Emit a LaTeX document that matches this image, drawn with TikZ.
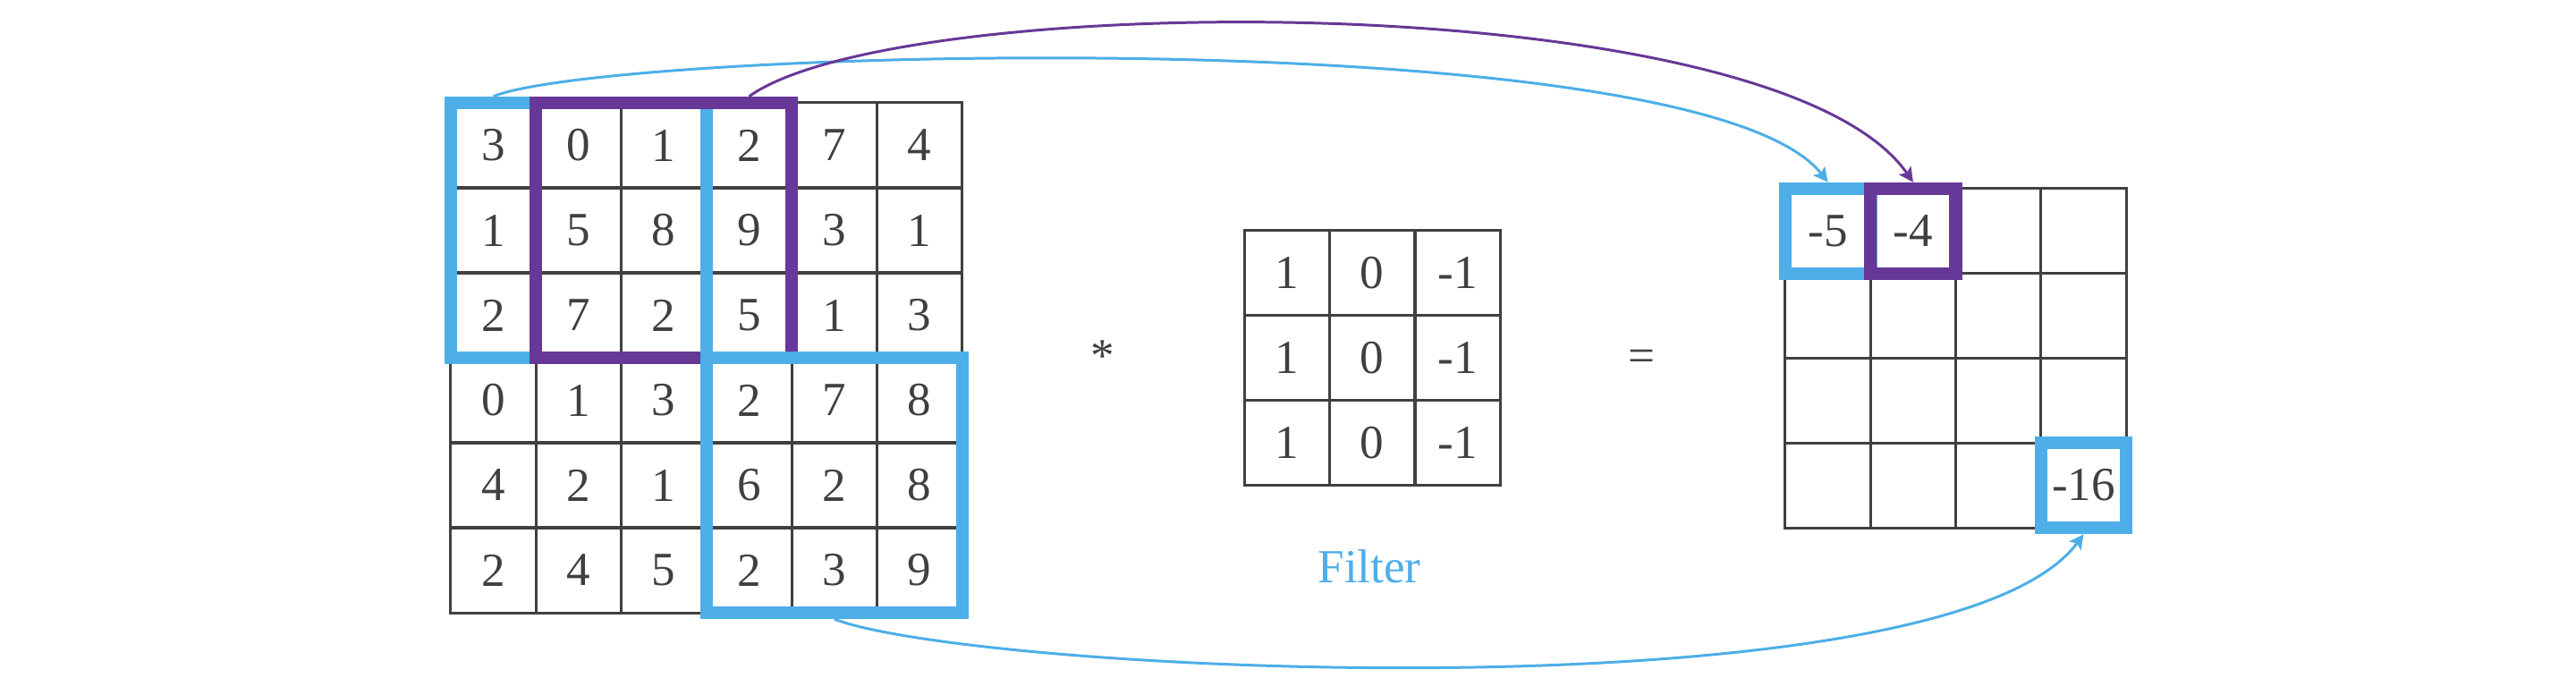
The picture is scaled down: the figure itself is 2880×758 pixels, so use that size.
\documentclass[tikz,border=0pt]{standalone}
\usepackage{fontspec}
\setmainfont{Liberation Serif}
\usetikzlibrary{fit,arrows.meta}
\definecolor{gridgray}{HTML}{404040}
\definecolor{hlblue}{HTML}{4DAEE8}
\definecolor{hlpurple}{HTML}{673897}
\begin{document}
\begin{tikzpicture}[x=0.01cm,y=-0.01cm,
  cell/.style={draw=gridgray, line width=0.85pt, minimum width=0.953cm, minimum height=0.95cm,
    inner sep=0pt, outer sep=0pt, text=gridgray, font=\fontsize{15.1}{18}\selectfont},
  hl/.style={draw=#1, line width=4.1pt, inner sep=0pt},
  conn/.style={draw=#1, line width=0.85pt, -{Stealth[length=4.6pt,width=4.6pt,inset=1pt]}},
  sym/.style={text=gridgray, anchor=base, inner sep=0pt, font=\fontsize{15.1}{18}\selectfont}]
\useasboundingbox (0,0) rectangle (2880,758);
% input 6x6
\foreach \rowvals [count=\r from 0] in {{3,0,1,2,7,4},{1,5,8,9,3,1},{2,7,2,5,1,3},{0,1,3,2,7,8},{4,2,1,6,2,8},{2,4,5,2,3,9}}{
  \foreach \v [count=\c from 0] in \rowvals {
    \node[cell] (in-\r-\c) at ({504+95.3*(\c+0.5)},{115+95*(\r+0.5)}) {\v};
  }
}
% filter 3x3
\foreach \rowvals [count=\r from 0] in {{1,0,-1},{1,0,-1},{1,0,-1}}{
  \foreach \v [count=\c from 0] in \rowvals {
    \node[cell] (f-\r-\c) at ({1391+95.5*(\c+0.5)},{257+95.3*(\r+0.5)}) {\v};
  }
}
% output 4x4
\foreach \rowvals [count=\r from 0] in {{-5,-4,{},{}},{{},{},{},{}},{{},{},{},{}},{{},{},{},-16}}{
  \foreach \v [count=\c from 0] in \rowvals {
    \node[cell, minimum height=0.9475cm] (out-\r-\c) at ({1996+95.3*(\c+0.5)},{211+94.75*(\r+0.5)}) {\v};
  }
}
% highlight boxes
\node[hl=hlblue, fit=(in-0-0)(in-2-2)] (box1) {};
\node[hl=hlpurple, fit=(in-0-1)(in-2-3)] (box2) {};
\node[hl=hlblue, fit=(in-3-3)(in-5-5)] (box3) {};
\node[hl=hlblue, fit=(out-0-0)] (ob1) {};
\node[hl=hlpurple, fit=(out-0-1)] (ob2) {};
\node[hl=hlblue, fit=(out-3-3)] (ob3) {};
% symbols and label
\node[sym] (star) at (1233,416) {*};
\node[sym] (eq) at (1835,416) {=};
\node[sym, text=hlblue] (filterlabel) at (1531,652) {Filter};
% connectors
\draw[conn=hlblue] (in-0-0.north |- box1.north) .. controls (680,55) and (1900,20) .. (ob1.north);
\draw[conn=hlpurple] (in-0-3.north |- box2.north) .. controls (1004,-12) and (1985,-18) .. (ob2.north);
\draw[conn=hlblue] (box3.south) .. controls (1093,753) and (2177,804) .. (ob3.south);
\end{tikzpicture}
\end{document}
